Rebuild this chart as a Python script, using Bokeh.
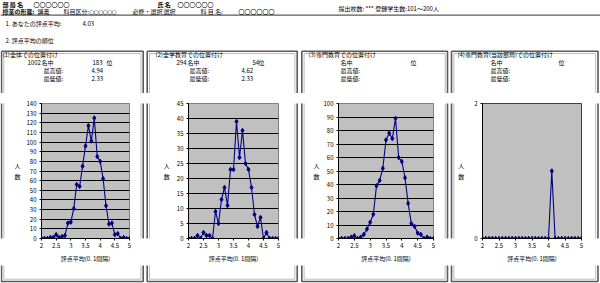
from bokeh.plotting import figure
from bokeh.layouts import column, row
from bokeh.models import Label, FixedTicker, Range1d
from bokeh.embed import file_html
from bokeh.resources import INLINE

# ---------------- data ----------------
x_scores = [2.0, 2.1, 2.2, 2.3, 2.4, 2.5, 2.6, 2.7, 2.8, 2.9, 3.0,
            3.1, 3.2, 3.3, 3.4, 3.5, 3.6, 3.7, 3.8, 3.9, 4.0,
            4.1, 4.2, 4.3, 4.4, 4.5, 4.6, 4.7, 4.8, 4.9, 5.0]
overall_counts = [0, 0, 0, 1, 1, 4, 1, 2, 3, 16, 17,
                  31, 56, 54, 75, 96, 117, 101, 125, 85, 80,
                  62, 34, 15, 16, 4, 5, 0, 1, 0, 0]
general_counts = [0, 0, 0, 1, 0, 2, 1, 1, 0, 9, 5,
                  13, 17, 11, 23, 23, 39, 27, 36, 25, 23,
                  17, 8, 4, 7, 0, 2, 0, 0, 0, 0]
major_counts = [0, 0, 0, 0, 1, 2, 0, 1, 3, 7, 12,
                18, 39, 43, 52, 73, 78, 74, 89, 60, 57,
                45, 26, 11, 9, 4, 3, 0, 1, 0, 0]
dept_counts = [0, 0, 0, 0, 0, 0, 0, 0, 0, 0, 0,
               0, 0, 0, 0, 0, 0, 0, 0, 0, 0,
               1, 0, 0, 0, 0, 0, 0, 0, 0, 0]

x_tick_values = [2, 2.5, 3, 3.5, 4, 4.5, 5]
x_tick_labels = ["2", "2.5", "3", "3.5", "4", "4.5", "5"]
y_ticks_overall = [0, 10, 20, 30, 40, 50, 60, 70, 80, 90, 100, 110, 120, 130, 140]
y_ticks_general = [0, 5, 10, 15, 20, 25, 30, 35, 40, 45]
y_ticks_major = [0, 10, 20, 30, 40, 50, 60, 70, 80, 90, 100]
y_ticks_dept = [0, 2]

panel_titles = ["(1)全体での位置付け", "(2)全学教育での位置付け",
                "(3)専門教育での位置付け", "(4)専門教育(当該部局)での位置付け"]
totals = ["1002", "294", "", ""]
ranks = ["183", "54", "", ""]
max_vals = ["4.94", "4.62", "", ""]
min_vals = ["2.33", "2.33", "", ""]
x_title = "評点平均(0. 1間隔)"
y_title = "人\n数"
my_average = "4.03"

FONT = "Noto Sans CJK JP"
FS = "6px"
NAVY = "#000080"

# ---------------- layout geometry (global pixel coords) ----------------
TOP_H = 93      # header + panel heads
CHART_H = 172   # chart band
BOT_H = 18      # bottom band
panel_boxes = [(1.0, 142.7), (146.7, 296.7), (301.3, 447.0), (451.0, 597.5)]
BOX_TOP, BOX_BOTTOM, INSET = 50.7, 281.0, 2.3


def deco_fig(x0, x1, y0, y1):
    f = figure(width=int(round(x1 - x0)), height=int(round(y1 - y0)),
               x_range=Range1d(x0, x1), y_range=Range1d(y1, y0),
               x_axis_type=None, y_axis_type=None, toolbar_location=None,
               output_backend="svg", min_border=0, outline_line_color=None)
    f.xgrid.visible = False
    f.ygrid.visible = False
    f.background_fill_color = "white"
    f.border_fill_color = "white"
    for (l, r) in panel_boxes:
        f.line(x=[l, r, r, l, l], y=[BOX_TOP, BOX_TOP, BOX_BOTTOM, BOX_BOTTOM, BOX_TOP],
               line_color="#5a5a5a", line_width=1.6)
        f.line(x=[l + INSET, r - INSET, r - INSET, l + INSET, l + INSET],
               y=[BOX_TOP + INSET, BOX_TOP + INSET, BOX_BOTTOM - INSET, BOX_BOTTOM - INSET, BOX_TOP + INSET],
               line_color="#bcbcbc", line_width=1)
    return f


def put(f, x, y, t, align="left", size=FS, bold=False):
    f.add_layout(Label(x=x, y=y, text=t, text_font=FONT, text_font_size=size,
                       text_baseline="middle", text_align=align, text_color="black",
                       text_font_style="bold" if bold else "normal"))


# ---------------- top band ----------------
top = deco_fig(0, 600, 0, TOP_H)
put(top, 2, 3.5, "部 局 名", bold=True)
put(top, 33, 3.5, "〇〇〇〇〇〇")
put(top, 157, 3.5, "氏 名", bold=True)
put(top, 177, 3.5, "〇〇〇〇〇〇")
put(top, 2, 11, "授業の形態:", bold=True)
put(top, 37, 11, "講義")
put(top, 63, 11, "科目区分:")
put(top, 89, 11, "〇〇〇〇〇〇", size="4.5px")
put(top, 132, 11, "必修・選択")
put(top, 163, 11, "選択")
put(top, 200, 11, "科 目 名:")
put(top, 238, 11, "〇〇〇〇〇〇")
put(top, 338, 8, "提出枚数:  ***   登録学生数:101～200人")
top.line(x=[0, 600], y=[14.6, 14.6], line_color="#303030", line_width=1)
put(top, 5, 23, "1. あなたの評点平均:")
put(top, 82, 23, my_average)
put(top, 5, 40, "2. 評点平均の順位")

head_pos = [
    dict(tx=2, numx=27, namex=41, rankx=92, posx=106, labx=43, valx=91),
    dict(tx=155, numx=176, namex=187, rankx=252, posx=258, labx=189, valx=241),
    dict(tx=308, numx=326, namex=340, rankx=400, posx=410, labx=340, valx=391),
    dict(tx=457, numx=476, namex=490, rankx=548, posx=558, labx=490, valx=541),
]
for i, hp in enumerate(head_pos):
    put(top, hp["tx"], 54.3, panel_titles[i])
    if totals[i]:
        put(top, hp["numx"], 62, totals[i])
    put(top, hp["namex"], 62, "名中")
    if ranks[i]:
        put(top, hp["rankx"], 62, ranks[i])
    put(top, hp["posx"], 62, "位")
    put(top, hp["labx"], 70.3, "最高値:")
    if max_vals[i]:
        put(top, hp["valx"], 70.3, max_vals[i])
    put(top, hp["labx"], 78.3, "最低値:")
    if min_vals[i]:
        put(top, hp["valx"], 78.3, min_vals[i])

# ---------------- chart band ----------------
chart_specs = [
    dict(x0=5, x1=139, fl=36, fr=10, ft=8, fb=26, ymax=140, yt=y_ticks_overall,
         c=overall_counts, ylsd=3),
    dict(x0=151, x1=293, fl=37, fr=15, ft=10, fb=27, ymax=45, yt=y_ticks_general,
         c=general_counts, ylsd=4),
    dict(x0=305, x1=443, fl=33, fr=10, ft=9, fb=26, ymax=100, yt=y_ticks_major,
         c=major_counts, ylsd=1),
    dict(x0=455, x1=594, fl=23, fr=13, ft=10, fb=26, ymax=2, yt=y_ticks_dept,
         c=dept_counts, ylsd=7),
]


def make_chart(i, s):
    p = figure(width=s["x1"] - s["x0"], height=CHART_H,
               x_range=Range1d(2, 5), y_range=Range1d(0, s["ymax"]),
               toolbar_location=None, output_backend="svg",
               min_border_left=s["fl"], min_border_right=s["fr"],
               min_border_top=s["ft"], min_border_bottom=s["fb"])
    p.background_fill_color = "#c0c0c0"
    p.border_fill_color = "white"
    p.outline_line_color = "#808080" if i < 3 else "#404040"
    p.outline_line_width = 1
    p.xgrid.visible = False
    p.ygrid.grid_line_color = "black" if i < 3 else None
    p.ygrid.grid_line_width = 1

    p.xaxis.ticker = FixedTicker(ticks=x_tick_values)
    p.xaxis.major_label_overrides = dict(zip(x_tick_values, x_tick_labels))
    p.yaxis.ticker = FixedTicker(ticks=s["yt"])
    for ax in (p.xaxis[0], p.yaxis[0]):
        ax.axis_line_color = "black"
        ax.major_tick_line_color = "black"
        ax.major_tick_out = 2
        ax.major_tick_in = 0
        ax.minor_tick_line_color = None
        ax.major_label_text_font = FONT
        ax.major_label_text_font_size = FS
        ax.major_label_text_color = "black"
        ax.axis_label_text_font = FONT
        ax.axis_label_text_font_size = FS
        ax.axis_label_text_font_style = "normal"
        ax.axis_label_text_color = "black"
    p.xaxis.major_label_standoff = 2
    p.yaxis.major_label_standoff = 3
    p.xaxis.axis_label = x_title
    p.xaxis.axis_label_standoff = 3
    p.yaxis.axis_label = y_title
    p.yaxis.axis_label_orientation = "horizontal"
    p.yaxis.axis_label_standoff = s["ylsd"]

    p.line(x=x_scores, y=s["c"], line_color=NAVY, line_width=1.1)
    p.scatter(x=x_scores, y=s["c"], marker="diamond", size=4.5,
              fill_color=NAVY, line_color=NAVY)
    return p


strip_edges = [(0, 5), (139, 151), (293, 305), (443, 455), (594, 600)]
band = []
for k in range(5):
    sx0, sx1 = strip_edges[k]
    band.append(deco_fig(sx0, sx1, TOP_H, TOP_H + CHART_H))
    if k < 4:
        band.append(make_chart(k, chart_specs[k]))

# ---------------- bottom band ----------------
bottom = deco_fig(0, 600, TOP_H + CHART_H, TOP_H + CHART_H + BOT_H)

layout = column(top, row(*band, spacing=0), bottom, spacing=0)

with open("out.html", "w") as f:
    f.write(file_html(layout, INLINE))
